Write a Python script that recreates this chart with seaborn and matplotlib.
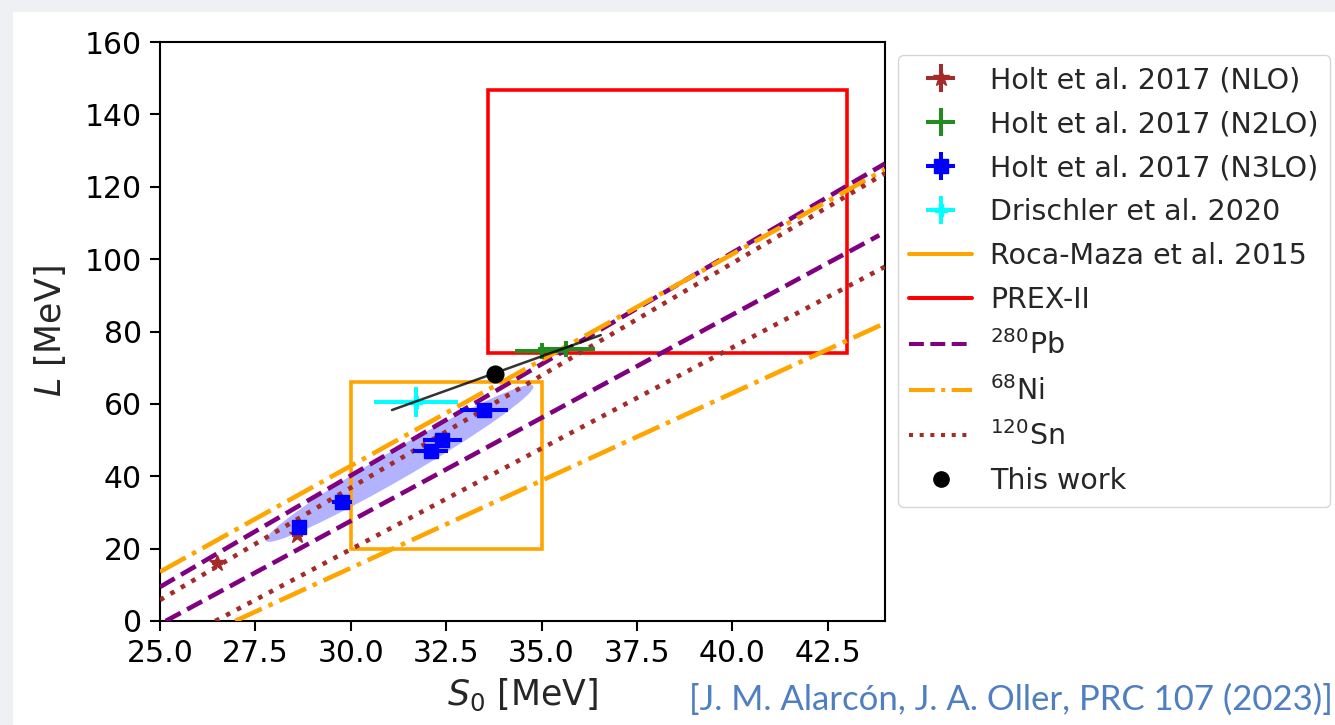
import numpy as np
import matplotlib
matplotlib.use("Agg")
import matplotlib.pyplot as plt
import matplotlib.patches as mpatches
from matplotlib.lines import Line2D
from matplotlib.transforms import Affine2D
import pandas as pd
import seaborn as sns

# --- data ---
nlo_s = [26.5, 28.6]
nlo_l = [15.9, 23.7]
nlo_serr = [0.15, 0.15]
nlo_lerr = [1.0, 1.0]

n2lo_s = [35.0, 35.65]
n2lo_l = [74.7, 75.3]
n2lo_serr = [0.7, 0.75]
n2lo_lerr = [2.0, 2.0]

n3lo_s = [28.63, 29.77, 32.1, 32.4, 33.5]
n3lo_l = [26.0, 33.0, 47.0, 50.0, 58.3]
n3lo_serr = [0.15, 0.25, 0.46, 0.52, 0.63]
n3lo_lerr = [1.5, 1.5, 1.5, 1.5, 1.5]

dri_s = [31.7]
dri_l = [60.5]
dri_serr = [1.1]
dri_lerr = [4.1]

# Roca-Maza 2015 and PREX-II boxes: (S_min, S_max, L_min, L_max)
roca_box = (30.0, 35.0, 20.0, 66.0)
prex_box = (33.6, 43.0, 74.0, 146.7)

# constraint lines, two endpoints each (S, L)
pb_lines = [([25.0, 44.0], [9.4, 126.4]), ([25.15, 43.85], [0.0, 106.6])]
ni_lines = [([25.0, 44.0], [13.6, 124.8]), ([26.97, 44.0], [0.0, 82.3])]
sn_lines = [([25.0, 44.0], [5.8, 123.7]), ([26.45, 44.0], [0.0, 97.9])]

# this work
this_s = [33.79]
this_l = [68.2]
band_s = [31.08, 36.55]
band_l = [58.3, 79.0]

# Holt N3LO correlation ellipse: centre, half major axis, half minor axis
ell_center = (31.28, 43.55)
ell_major = (3.5, 21.4)
ell_minor = (-0.19, 3.5)

sns.set_style("ticks")
plt.rcParams["font.family"] = ["DejaVu Sans"]
plt.rcParams["mathtext.fontset"] = "dejavusans"
plt.rcParams["axes.edgecolor"] = "black"
plt.rcParams["axes.linewidth"] = 1.5
plt.rcParams["xtick.color"] = "black"
plt.rcParams["ytick.color"] = "black"
plt.rcParams["xtick.major.size"] = 7.2
plt.rcParams["ytick.major.size"] = 7.2
plt.rcParams["xtick.major.width"] = 1.5
plt.rcParams["ytick.major.width"] = 1.5
plt.rcParams["xtick.major.pad"] = 6
plt.rcParams["ytick.major.pad"] = 6

TICK_FS = 21.5
LABEL_FS = 25
LEG_FS = 20.5
LW = 2.9

fig = plt.figure(figsize=(13.35, 7.25), dpi=100, facecolor="#eef0f4")
fig.patches.append(mpatches.Rectangle((13 / 1335, 0), 1, 1 - 12 / 725,
                                      transform=fig.transFigure,
                                      facecolor="white", edgecolor="none",
                                      zorder=-10))
ax = fig.add_axes([160 / 1335, 1 - 621 / 725, 725 / 1335, 579 / 725])
ax.set_facecolor("white")

# ellipse
ell = mpatches.Ellipse((0, 0), 2, 2, facecolor="blue", alpha=0.3,
                       edgecolor="none", zorder=1)
ell.set_transform(Affine2D(np.array([[ell_major[0], ell_minor[0], ell_center[0]],
                                     [ell_major[1], ell_minor[1], ell_center[1]],
                                     [0, 0, 1]])) + ax.transData)
ax.add_patch(ell)

# boxes
for box, col in [(roca_box, "orange"), (prex_box, "red")]:
    ax.add_patch(mpatches.Rectangle((box[0], box[2]), box[1] - box[0], box[3] - box[2],
                                    fill=False, edgecolor=col, lw=LW - 0.3, zorder=2))

# constraint lines
styles = [(pb_lines, "purple", "--"), (ni_lines, "orange", "-."), (sn_lines, "brown", ":")]
for lines, col, ls in styles:
    for xs, ys in lines:
        df = pd.DataFrame({"S": xs, "L": ys})
        sns.lineplot(data=df, x="S", y="L", ax=ax, color=col, linestyle=ls,
                     lw=LW + 0.4, zorder=3, sort=False)

# Holt / Drischler points
eb = dict(ls="none", elinewidth=LW, capsize=0, zorder=4)
h_nlo = ax.errorbar(nlo_s, nlo_l, xerr=nlo_serr, yerr=nlo_lerr, color="brown",
                    marker="*", ms=12, **eb)
h_n2lo = ax.errorbar(n2lo_s, n2lo_l, xerr=n2lo_serr, yerr=n2lo_lerr, color="forestgreen",
                     marker="+", ms=11, mew=LW, **eb)
h_n3lo = ax.errorbar(n3lo_s, n3lo_l, xerr=n3lo_serr, yerr=n3lo_lerr, color="blue",
                     marker="s", ms=10, **eb)
h_dri = ax.errorbar(dri_s, dri_l, xerr=dri_serr, yerr=dri_lerr, color="cyan",
                    marker="P", ms=9, **eb)

# this work
ax.plot(band_s, band_l, color="black", lw=1.8, alpha=0.8, zorder=5)
sns.scatterplot(x=this_s, y=this_l, ax=ax, color="black", s=170, zorder=6,
                edgecolor="black", linewidth=0)

ax.set_xlim(25, 44)
ax.set_ylim(0, 160)
ax.set_xticks(np.arange(25, 43, 2.5))
ax.set_yticks(np.arange(0, 161, 20))
ax.tick_params(labelsize=TICK_FS)
ax.set_xlabel(r"$S_0$ [MeV]", fontsize=LABEL_FS, labelpad=6)
ax.set_ylabel(r"$L$ [MeV]", fontsize=LABEL_FS, labelpad=12)
for sp in ax.spines.values():
    sp.set_visible(True)

handles = [h_nlo, h_n2lo, h_n3lo, h_dri,
           Line2D([], [], color="orange", lw=LW),
           Line2D([], [], color="red", lw=LW),
           Line2D([], [], color="purple", lw=LW, ls="--"),
           Line2D([], [], color="orange", lw=LW, ls="-."),
           Line2D([], [], color="brown", lw=LW, ls=":"),
           Line2D([], [], color="black", marker="o", ls="none", ms=11)]
labels = ["Holt et al. 2017 (NLO)", "Holt et al. 2017 (N2LO)",
          "Holt et al. 2017 (N3LO)", "Drischler et al. 2020",
          "Roca-Maza et al. 2015", "PREX-II",
          r"$^{280}$Pb", r"$^{68}$Ni", r"$^{120}$Sn", "This work"]
ax.legend(handles, labels, loc="upper left", bbox_to_anchor=(1.0, 1.0),
          fontsize=LEG_FS, frameon=True, edgecolor="#cccccc", fancybox=True,
          handlelength=2.2, handletextpad=0.65, labelspacing=0.56,
          borderaxespad=0.45)

fig.text(1333 / 1335, 1 - 700 / 725, "[J. M. Alarcón, J. A. Oller, PRC 107 (2023)]",
         ha="right", va="center", fontsize=25, color="#4f7fc0",
         family=["Lato", "DejaVu Sans"])

fig.savefig("out.png", dpi=100, facecolor=fig.get_facecolor())
